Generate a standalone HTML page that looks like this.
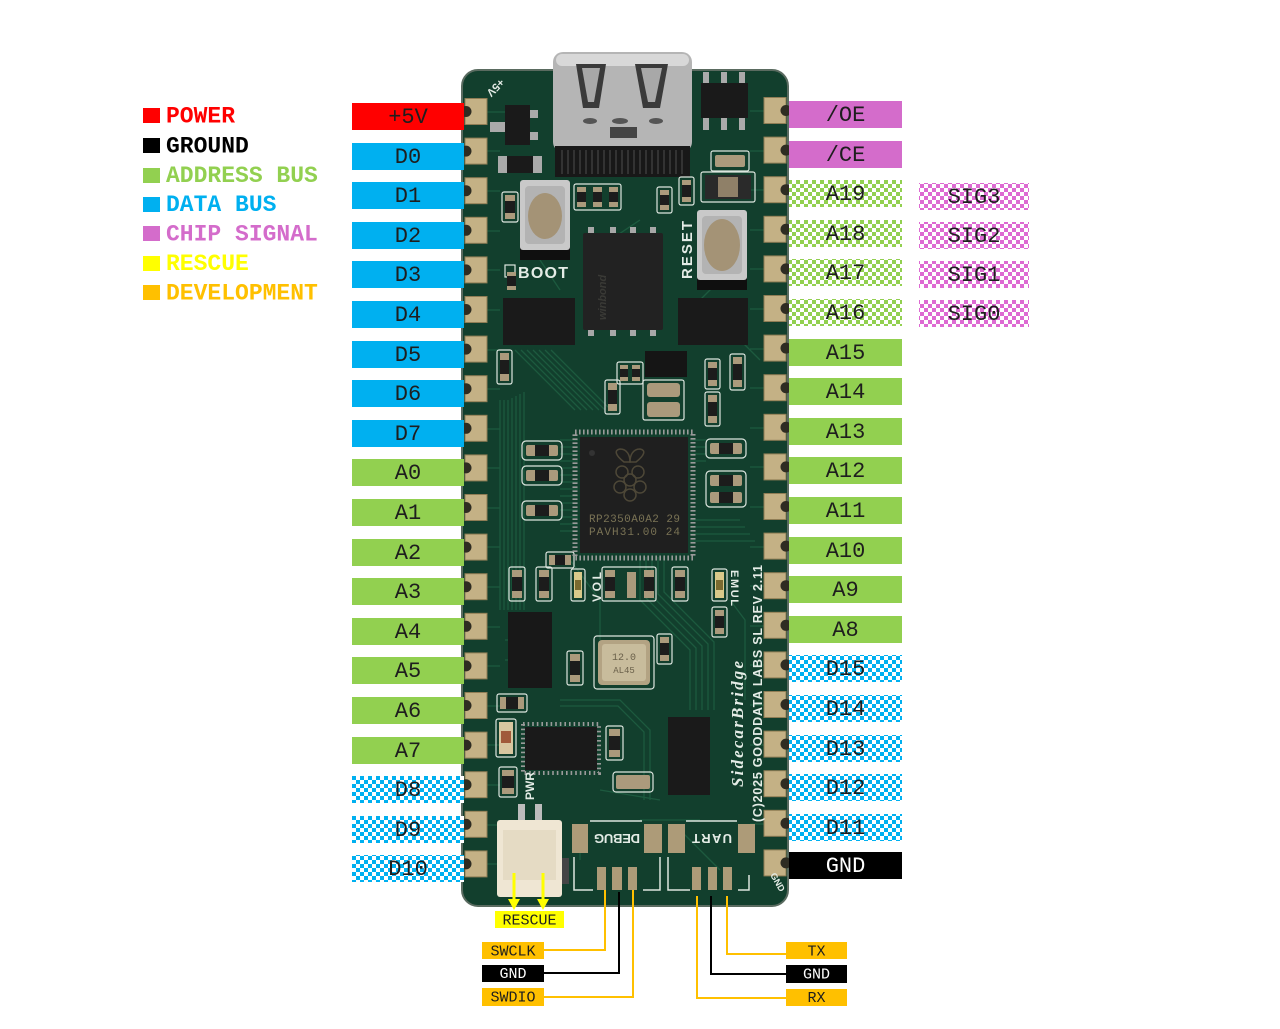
<!DOCTYPE html>
<html><head><meta charset="utf-8"><style>
html,body{margin:0;padding:0;background:#fff;}
svg{display:block;}
.lb{font-family:"Liberation Mono","Courier New",monospace;font-size:22px;fill:#1e1e1e;text-anchor:middle;}
.lg{font-family:"Liberation Mono","Courier New",monospace;font-size:23px;font-weight:bold;}
.sm{font-family:"Liberation Mono","Courier New",monospace;font-size:15px;fill:#1e1e1e;text-anchor:middle;}
.silk{font-family:"Liberation Sans",sans-serif;font-weight:bold;fill:#e4ece6;}
</style></head><body>
<svg width="1280" height="1029" viewBox="0 0 1280 1029" xmlns="http://www.w3.org/2000/svg">
<defs>
<pattern id="cg" width="8" height="8" patternUnits="userSpaceOnUse"><rect width="8" height="8" fill="#fff"/><path d="M0 0h4v4H0zM4 4h4v4H4z" fill="#92d050"/></pattern>
<pattern id="cb" width="8" height="8" patternUnits="userSpaceOnUse"><rect width="8" height="8" fill="#fff"/><path d="M0 0h4v4H0zM4 4h4v4H4z" fill="#00b0f0"/></pattern>
<pattern id="cp" width="8" height="8" patternUnits="userSpaceOnUse"><rect width="8" height="8" fill="#fff"/><path d="M0 0h4v4H0zM4 4h4v4H4z" fill="#dd6ad2"/></pattern>
</defs>

<!-- Legend -->
<rect x="143" y="108" width="17" height="15" fill="#ff0000"/><text class="lg" x="166" y="122.5" fill="#ff0000">POWER</text>
<rect x="143" y="138" width="17" height="15" fill="#000"/><text class="lg" x="166" y="152.5" fill="#000">GROUND</text>
<rect x="143" y="168" width="17" height="15" fill="#92d050"/><text class="lg" x="166" y="182" fill="#92d050">ADDRESS BUS</text>
<rect x="143" y="197" width="17" height="15" fill="#00b0f0"/><text class="lg" x="166" y="211" fill="#00b0f0">DATA BUS</text>
<rect x="143" y="226" width="17" height="15" fill="#d46ccb"/><text class="lg" x="166" y="240.5" fill="#d46ccb">CHIP SIGNAL</text>
<rect x="143" y="256" width="17" height="15" fill="#ffff00"/><text class="lg" x="166" y="270" fill="#ffff00">RESCUE</text>
<rect x="143" y="285" width="17" height="15" fill="#ffc000"/><text class="lg" x="166" y="299.5" fill="#ffc000">DEVELOPMENT</text>

<!-- Board -->
<rect x="462" y="70" width="326" height="836" rx="16" fill="#123f2d" stroke="#5a6b60" stroke-width="2"/>

<!-- traces -->
<g stroke="#1d5a3f" stroke-width="1.3" fill="none">
<path d="M487 112H505M487 151H500M487 191H500M487 231H500M487 270H500M487 310H500M487 350H500M487 389H500M487 429H500M487 468H500M487 508H500M487 547H500M487 587H500M487 627H500M487 666H500M487 706H500M487 745H500M487 785H500M487 825H500M487 864H500"/>
<path d="M764 111H750M764 151H750M764 190H750M764 230H750M764 269H750M764 309H750M764 349H750M764 388H750M764 428H750M764 467H750M764 507H750M764 547H750M764 586H750M764 626H750M764 665H750M764 705H750M764 745H750M764 784H750M764 824H750"/>
<path d="M500 400V610M504 400V610M508 400V610M512 398V610M516 396V610M520 394V610M524 392V610"/>
<path d="M515 350L575 410M521 350L581 410M527 350L587 410M533 350L593 410M539 350L599 410M545 350L605 410M551 350L611 410"/>
<path d="M560 440H578M560 447H578M560 454H578M560 461H578M560 468H578M560 475H578M560 482H578M560 489H578M560 496H578M560 503H578M560 510H578M560 517H578M560 524H578M560 531H578"/>
<path d="M690 440H706M690 447H706M690 454H706M690 461H706M690 520H740M690 527H745M690 534H750M690 541H755"/>
<path d="M640 557V600L690 650V710M646 557V598L696 648V710M652 557V596L702 646V710M658 557V594L708 644V710M664 557V592L714 642V710"/>
<path d="M560 700L620 700L650 730V800M560 706L618 706L644 732V800M600 790L660 800M570 560L600 600V640"/>
<path d="M520 640H505M520 660H505M540 260L560 290M610 240L640 220M700 300L740 260M730 330L760 360M730 600L745 620V700"/>
<path d="M580 830V860M640 820H700M680 830L720 870"/>
</g>

<!-- left pads -->
<g fill="#c4b185" stroke="#8f7d55" stroke-width="1">
<rect x="465" y="98.5" width="22" height="26"/><rect x="465" y="138.1" width="22" height="26"/><rect x="465" y="177.7" width="22" height="26"/><rect x="465" y="217.3" width="22" height="26"/><rect x="465" y="256.9" width="22" height="26"/><rect x="465" y="296.5" width="22" height="26"/><rect x="465" y="336.1" width="22" height="26"/><rect x="465" y="375.7" width="22" height="26"/><rect x="465" y="415.3" width="22" height="26"/><rect x="465" y="454.9" width="22" height="26"/><rect x="465" y="494.5" width="22" height="26"/><rect x="465" y="534.1" width="22" height="26"/><rect x="465" y="573.7" width="22" height="26"/><rect x="465" y="613.3" width="22" height="26"/><rect x="465" y="652.9" width="22" height="26"/><rect x="465" y="692.5" width="22" height="26"/><rect x="465" y="732.1" width="22" height="26"/><rect x="465" y="771.7" width="22" height="26"/><rect x="465" y="811.3" width="22" height="26"/><rect x="465" y="850.9" width="22" height="26"/>
</g>
<g fill="#2e2c22">
<circle cx="466" cy="111.5" r="5.5"/><circle cx="466" cy="151.1" r="5.5"/><circle cx="466" cy="190.7" r="5.5"/><circle cx="466" cy="230.3" r="5.5"/><circle cx="466" cy="269.9" r="5.5"/><circle cx="466" cy="309.5" r="5.5"/><circle cx="466" cy="349.1" r="5.5"/><circle cx="466" cy="388.7" r="5.5"/><circle cx="466" cy="428.3" r="5.5"/><circle cx="466" cy="467.9" r="5.5"/><circle cx="466" cy="507.5" r="5.5"/><circle cx="466" cy="547.1" r="5.5"/><circle cx="466" cy="586.7" r="5.5"/><circle cx="466" cy="626.3" r="5.5"/><circle cx="466" cy="665.9" r="5.5"/><circle cx="466" cy="705.5" r="5.5"/><circle cx="466" cy="745.1" r="5.5"/><circle cx="466" cy="784.7" r="5.5"/><circle cx="466" cy="824.3" r="5.5"/><circle cx="466" cy="863.9" r="5.5"/>
</g>
<!-- right pads -->
<g fill="#c4b185" stroke="#8f7d55" stroke-width="1">
<rect x="764" y="97.5" width="22" height="26"/><rect x="764" y="137.1" width="22" height="26"/><rect x="764" y="176.7" width="22" height="26"/><rect x="764" y="216.3" width="22" height="26"/><rect x="764" y="255.9" width="22" height="26"/><rect x="764" y="295.5" width="22" height="26"/><rect x="764" y="335.1" width="22" height="26"/><rect x="764" y="374.7" width="22" height="26"/><rect x="764" y="414.3" width="22" height="26"/><rect x="764" y="453.9" width="22" height="26"/><rect x="764" y="493.5" width="22" height="26"/><rect x="764" y="533.1" width="22" height="26"/><rect x="764" y="572.7" width="22" height="26"/><rect x="764" y="612.3" width="22" height="26"/><rect x="764" y="651.9" width="22" height="26"/><rect x="764" y="691.5" width="22" height="26"/><rect x="764" y="731.1" width="22" height="26"/><rect x="764" y="770.7" width="22" height="26"/><rect x="764" y="810.3" width="22" height="26"/><rect x="764" y="849.9" width="22" height="26"/>
</g>
<g fill="#2e2c22">
<circle cx="786" cy="110.5" r="5.5"/><circle cx="786" cy="150.1" r="5.5"/><circle cx="786" cy="189.7" r="5.5"/><circle cx="786" cy="229.3" r="5.5"/><circle cx="786" cy="268.9" r="5.5"/><circle cx="786" cy="308.5" r="5.5"/><circle cx="786" cy="348.1" r="5.5"/><circle cx="786" cy="387.7" r="5.5"/><circle cx="786" cy="427.3" r="5.5"/><circle cx="786" cy="466.9" r="5.5"/><circle cx="786" cy="506.5" r="5.5"/><circle cx="786" cy="546.1" r="5.5"/><circle cx="786" cy="585.7" r="5.5"/><circle cx="786" cy="625.3" r="5.5"/><circle cx="786" cy="664.9" r="5.5"/><circle cx="786" cy="704.5" r="5.5"/><circle cx="786" cy="744.1" r="5.5"/><circle cx="786" cy="783.7" r="5.5"/><circle cx="786" cy="823.3" r="5.5"/><circle cx="786" cy="862.9" r="5.5"/>
</g>

<!-- USB-C -->
<rect x="553" y="52" width="139" height="100" rx="10" fill="#b5b5b5"/>
<rect x="556" y="54" width="133" height="12" rx="6" fill="#d8d8d8"/>
<path d="M576 64H606L599 108H583Z" fill="#3a3a3a"/><path d="M582 68H600L594 102H588Z" fill="#a8a8a8"/>
<path d="M635 64H668L660 108H643Z" fill="#3a3a3a"/><path d="M641 68H662L655 102H648Z" fill="#a8a8a8"/>
<ellipse cx="590" cy="121" rx="7" ry="3" fill="#555"/><ellipse cx="620" cy="121" rx="8" ry="3" fill="#555"/><ellipse cx="656" cy="121" rx="7" ry="3" fill="#555"/>
<rect x="610" y="127" width="27" height="11" fill="#444"/>
<rect x="555" y="146" width="135" height="31" fill="#181818"/>
<path d="M562 150V174M568 150V174M574 150V174M580 150V174M586 150V174M592 150V174M598 150V174M604 150V174M610 150V174M616 150V174M622 150V174M628 150V174M634 150V174M640 150V174M646 150V174M652 150V174M658 150V174M664 150V174M670 150V174M676 150V174M682 150V174" stroke="#3c3c3c" stroke-width="1.5"/>

<!-- top small ICs -->
<rect x="703" y="72" width="6" height="12" fill="#aaa"/><rect x="721" y="72" width="6" height="12" fill="#aaa"/><rect x="739" y="72" width="6" height="12" fill="#aaa"/>
<rect x="703" y="117" width="6" height="13" fill="#aaa"/><rect x="721" y="117" width="6" height="13" fill="#aaa"/><rect x="739" y="117" width="6" height="13" fill="#aaa"/>
<rect x="701" y="83" width="47" height="35" fill="#1a1a1a"/>
<rect x="490" y="122" width="15" height="10" fill="#aaa"/><rect x="528" y="110" width="10" height="8" fill="#aaa"/><rect x="528" y="132" width="10" height="8" fill="#aaa"/>
<rect x="505" y="105" width="25" height="40" fill="#1a1a1a"/>
<rect x="498" y="156" width="44" height="17" fill="#aaa"/><rect x="507" y="156" width="26" height="17" fill="#1a1a1a"/>

<!-- small parts -->
<g fill="none" stroke="#dde6df" stroke-width="1.2">
<rect x="502" y="192" width="16" height="30" rx="2"/>
<rect x="574" y="184" width="47" height="26" rx="2"/>
<rect x="657" y="187" width="15" height="26" rx="2"/>
<rect x="679" y="177" width="15" height="28" rx="2"/>
<rect x="711" y="151" width="38" height="20" rx="2"/>
<rect x="701" y="172" width="54" height="30" rx="2"/>
<rect x="497" y="350" width="15" height="34" rx="2"/>
<rect x="605" y="380" width="15" height="34" rx="2"/>
<rect x="617" y="362" width="26" height="22" rx="2"/>
<rect x="705" y="359" width="15" height="30" rx="2"/>
<rect x="705" y="392" width="15" height="34" rx="2"/>
<rect x="730" y="354" width="15" height="36" rx="2"/>
<rect x="643" y="380" width="41" height="40" rx="2"/>
<rect x="522" y="441" width="40" height="19" rx="4"/>
<rect x="522" y="466" width="40" height="19" rx="4"/>
<rect x="522" y="501" width="40" height="19" rx="4"/>
<rect x="706" y="439" width="40" height="19" rx="4"/>
<rect x="706" y="471" width="40" height="36" rx="4"/>
<rect x="546" y="552" width="28" height="16" rx="2"/>
<rect x="509" y="567" width="16" height="34" rx="2"/>
<rect x="536" y="567" width="16" height="34" rx="2"/>
<rect x="571" y="569" width="14" height="32" rx="2"/>
<rect x="602" y="567" width="54" height="34" rx="2"/>
<rect x="672" y="567" width="16" height="34" rx="2"/>
<rect x="712" y="569" width="15" height="32" rx="2"/>
<rect x="712" y="607" width="15" height="30" rx="2"/>
<rect x="567" y="651" width="16" height="34" rx="2"/>
<rect x="657" y="634" width="15" height="30" rx="2"/>
<rect x="594" y="636" width="60" height="53" rx="3"/>
<rect x="497" y="694" width="30" height="18" rx="2"/>
<rect x="496" y="719" width="20" height="38" rx="2"/>
<rect x="606" y="726" width="17" height="34" rx="2"/>
<rect x="499" y="767" width="18" height="30" rx="2"/>
<rect x="613" y="772" width="40" height="20" rx="3"/>
<rect x="505" y="265" width="10" height="12"/>
</g>
<g fill="#ab9a7c">
<rect x="505" y="195" width="10" height="24"/>
<rect x="577" y="187" width="9" height="20"/><rect x="593" y="187" width="9" height="20"/><rect x="609" y="187" width="9" height="20"/>
<rect x="660" y="190" width="9" height="20"/><rect x="682" y="180" width="9" height="22"/>
<rect x="715" y="155" width="30" height="12" rx="2"/>
<rect x="507" y="272" width="9" height="18"/>
<rect x="500" y="353" width="9" height="28"/><rect x="608" y="383" width="9" height="28"/>
<rect x="620" y="365" width="8" height="16"/><rect x="632" y="365" width="8" height="16"/>
<rect x="708" y="362" width="9" height="24"/><rect x="708" y="395" width="9" height="28"/><rect x="733" y="357" width="9" height="30"/>
<rect x="647" y="383" width="33" height="14" rx="3"/><rect x="647" y="402" width="33" height="15" rx="3"/>
<rect x="526" y="445" width="32" height="11" rx="2"/><rect x="526" y="470" width="32" height="11" rx="2"/><rect x="526" y="505" width="32" height="11" rx="2"/>
<rect x="710" y="443" width="32" height="11" rx="2"/><rect x="710" y="475" width="32" height="11" rx="2"/><rect x="710" y="492" width="32" height="11" rx="2"/>
<rect x="549" y="555" width="22" height="10"/>
<rect x="512" y="570" width="10" height="28"/><rect x="539" y="570" width="10" height="28"/>
<rect x="605" y="570" width="10" height="28"/><rect x="627" y="572" width="9" height="26"/><rect x="644" y="570" width="10" height="28"/>
<rect x="675" y="570" width="10" height="28"/><rect x="715" y="610" width="9" height="24"/>
<rect x="570" y="654" width="10" height="28"/><rect x="660" y="637" width="9" height="24"/>
<rect x="500" y="697" width="24" height="12"/>
<rect x="609" y="729" width="11" height="28"/><rect x="502" y="770" width="12" height="24"/>
<rect x="616" y="775" width="34" height="14" rx="2"/>
</g>
<g fill="#1c1c1c">
<rect x="505" y="201" width="10" height="12"/>
<rect x="577" y="192" width="9" height="10"/><rect x="593" y="192" width="9" height="10"/><rect x="609" y="192" width="9" height="10"/>
<rect x="660" y="195" width="9" height="10"/><rect x="682" y="185" width="9" height="12"/>
<rect x="507" y="276" width="9" height="10"/>
<rect x="500" y="360" width="9" height="14"/><rect x="608" y="390" width="9" height="14"/>
<rect x="620" y="369" width="8" height="8"/><rect x="632" y="369" width="8" height="8"/>
<rect x="708" y="368" width="9" height="12"/><rect x="708" y="402" width="9" height="14"/><rect x="733" y="364" width="9" height="16"/>
<rect x="535" y="445" width="14" height="11"/><rect x="535" y="470" width="14" height="11"/><rect x="535" y="505" width="14" height="11"/>
<rect x="719" y="443" width="14" height="11"/><rect x="719" y="475" width="14" height="11"/><rect x="719" y="492" width="14" height="11"/>
<rect x="555" y="555" width="10" height="10"/>
<rect x="512" y="577" width="10" height="14"/><rect x="539" y="577" width="10" height="14"/>
<rect x="605" y="577" width="10" height="14"/><rect x="644" y="577" width="10" height="14"/><rect x="675" y="577" width="10" height="14"/>
<rect x="715" y="616" width="9" height="12"/>
<rect x="570" y="661" width="10" height="14"/><rect x="660" y="643" width="9" height="12"/>
<rect x="506" y="697" width="12" height="12"/>
<rect x="609" y="736" width="11" height="14"/><rect x="502" y="776" width="12" height="12"/>
<rect x="705" y="175" width="46" height="24" fill="#2a2a2a"/>
</g>
<rect x="718" y="177" width="20" height="20" fill="#8f8068"/>
<!-- LEDs -->
<rect x="574" y="572" width="8" height="26" fill="#d9c98a"/><rect x="575" y="580" width="6" height="10" fill="#7a6a30"/>
<rect x="715" y="572" width="9" height="26" fill="#d9c98a"/><rect x="716" y="580" width="7" height="10" fill="#7a6a30"/>
<rect x="499" y="722" width="14" height="32" fill="#d8c7a0"/><rect x="501" y="731" width="10" height="12" fill="#a05a3a"/>

<!-- Buttons -->
<rect x="520" y="246" width="50" height="14" fill="#0f0f0f"/>
<rect x="520" y="180" width="50" height="70" rx="3" fill="#c9c9c9"/>
<rect x="525" y="186" width="40" height="58" rx="4" fill="#b3b3b3"/>
<ellipse cx="545" cy="216" rx="17" ry="23" fill="#a49376"/>
<rect x="697" y="276" width="50" height="14" fill="#0f0f0f"/>
<rect x="697" y="210" width="50" height="70" rx="3" fill="#c9c9c9"/>
<rect x="702" y="216" width="40" height="58" rx="4" fill="#b3b3b3"/>
<ellipse cx="722" cy="245" rx="18" ry="26" fill="#a49376"/>

<!-- Flash -->
<g fill="#a8a8a8"><rect x="588" y="227" width="6" height="8"/><rect x="610" y="227" width="6" height="8"/><rect x="630" y="227" width="6" height="8"/><rect x="650" y="227" width="6" height="8"/>
<rect x="588" y="328" width="6" height="8"/><rect x="610" y="328" width="6" height="8"/><rect x="630" y="328" width="6" height="8"/><rect x="650" y="328" width="6" height="8"/></g>
<rect x="583" y="233" width="80" height="97" rx="2" fill="#222"/>
<text transform="translate(606,320) rotate(-90)" font-family="Liberation Sans,sans-serif" font-weight="bold" font-style="italic" font-size="11" fill="#3a3a36">winbond</text>
<!-- side chips -->
<rect x="503" y="298" width="72" height="47" fill="#1a1a1a"/>
<rect x="678" y="298" width="70" height="47" fill="#1a1a1a"/>
<rect x="645" y="351" width="42" height="26" fill="#151515"/>

<!-- RP2350 -->
<rect x="575" y="432" width="118" height="126" fill="none" stroke="#9a9a9a" stroke-width="5" stroke-dasharray="1.6,2.4"/>
<rect x="580" y="437" width="108" height="116" fill="#1f1f1f"/>
<circle cx="592" cy="453" r="3" fill="#333"/>
<g fill="none" stroke="#4d4737" stroke-width="1.5">
<path d="M624 462C615 455 614 450 620 449C627 449 630 455 630 462Z"/>
<path d="M636 462C645 455 646 450 640 449C633 449 630 455 630 462Z"/>
<circle cx="622" cy="472" r="6"/><circle cx="638" cy="472" r="6"/><circle cx="630" cy="480" r="6"/><circle cx="620" cy="487" r="6"/><circle cx="640" cy="487" r="6"/><circle cx="630" cy="495" r="6"/>
</g>
<text x="589" y="522" font-family="Liberation Mono,monospace" font-size="11" fill="#7a7355" textLength="91">RP2350A0A2 29</text>
<text x="589" y="535" font-family="Liberation Mono,monospace" font-size="11" fill="#7a7355" textLength="91">PAVH31.00  24</text>

<!-- crystal -->
<rect x="598" y="640" width="52" height="45" rx="4" fill="#b3a383"/>
<rect x="602" y="644" width="44" height="37" rx="3" fill="#c8bc9c"/>
<text x="624" y="660" font-family="Liberation Mono,monospace" font-size="10" fill="#6a604a" text-anchor="middle">12.0</text>
<text x="624" y="673" font-family="Liberation Mono,monospace" font-size="9" fill="#6a604a" text-anchor="middle">AL45</text>

<!-- lower chips -->
<rect x="508" y="612" width="44" height="76" fill="#181818"/>
<rect x="523" y="724" width="76" height="49" fill="none" stroke="#9a9a9a" stroke-width="4" stroke-dasharray="1.6,3"/>
<rect x="525" y="727" width="72" height="43" fill="#1a1a1a"/>
<rect x="668" y="717" width="42" height="78" fill="#1a1a1a"/>

<!-- JST connector -->
<rect x="518" y="804" width="7" height="30" fill="#bcbcbc"/><rect x="535" y="804" width="7" height="30" fill="#bcbcbc"/>
<rect x="562" y="858" width="7" height="26" fill="#444"/>
<rect x="497" y="820" width="65" height="77" rx="3" fill="#efe6d3"/>
<rect x="503" y="830" width="53" height="50" fill="#e5dbc4"/>

<!-- debug/uart -->
<g fill="#ad9b78">
<rect x="572" y="824" width="16" height="29"/><rect x="644" y="824" width="18" height="29"/><rect x="668" y="824" width="17" height="29"/><rect x="738" y="824" width="17" height="29"/>
<rect x="597" y="867" width="9" height="23"/><rect x="612" y="867" width="10" height="23"/><rect x="628" y="867" width="9" height="23"/>
<rect x="692" y="867" width="9" height="23"/><rect x="708" y="867" width="9" height="23"/><rect x="723" y="867" width="9" height="23"/>
</g>
<g fill="none" stroke="#dde6df" stroke-width="1.5">
<path d="M590 821H642M686 821H737"/>
<path d="M574 857V890H593M660 857V890H643M668 857V890H690M749 875V890H738"/>
</g>
<text transform="translate(640,834) rotate(180)" class="silk" font-size="13" textLength="46">DEBUG</text>
<text transform="translate(732,834) rotate(180)" class="silk" font-size="13" textLength="40">UART</text>
<text transform="translate(770,875) rotate(60)" class="silk" font-size="9">GND</text>

<!-- silkscreen text -->
<text x="518" y="278" class="silk" font-size="16" textLength="50">BOOT</text>
<text transform="translate(692,279) rotate(-90)" class="silk" font-size="15" textLength="58">RESET</text>
<text transform="translate(601,602) rotate(-90)" class="silk" font-size="12" textLength="30">VOL</text>
<text transform="translate(731,570) rotate(90)" class="silk" font-size="11" textLength="36">EMUL</text>
<text transform="translate(534,800) rotate(-90)" class="silk" font-size="12" textLength="28">PWR</text>
<text transform="translate(500,78) rotate(135)" class="silk" font-size="11">+5V</text>
<text transform="translate(743,787) rotate(-90)" font-family="Liberation Serif,serif" font-weight="bold" font-style="italic" font-size="17" fill="#e4ece6" textLength="126">SidecarBridge</text>
<text transform="translate(762,822) rotate(-90)" class="silk" font-size="12.5" textLength="257">(C)2025 GOODDATA LABS SL REV 2.11</text>

<!-- Left labels -->
<rect x="352" y="103" width="112" height="27" fill="#ff0000"/><text class="lb" x="408" y="123">+5V</text>
<rect x="352" y="143" width="112" height="27" fill="#00b0f0"/><text class="lb" x="408" y="163">D0</text>
<rect x="352" y="182" width="112" height="27" fill="#00b0f0"/><text class="lb" x="408" y="202">D1</text>
<rect x="352" y="222" width="112" height="27" fill="#00b0f0"/><text class="lb" x="408" y="242">D2</text>
<rect x="352" y="261" width="112" height="27" fill="#00b0f0"/><text class="lb" x="408" y="281">D3</text>
<rect x="352" y="301" width="112" height="27" fill="#00b0f0"/><text class="lb" x="408" y="321">D4</text>
<rect x="352" y="341" width="112" height="27" fill="#00b0f0"/><text class="lb" x="408" y="361">D5</text>
<rect x="352" y="380" width="112" height="27" fill="#00b0f0"/><text class="lb" x="408" y="400">D6</text>
<rect x="352" y="420" width="112" height="27" fill="#00b0f0"/><text class="lb" x="408" y="440">D7</text>
<rect x="352" y="459" width="112" height="27" fill="#92d050"/><text class="lb" x="408" y="479">A0</text>
<rect x="352" y="499" width="112" height="27" fill="#92d050"/><text class="lb" x="408" y="519">A1</text>
<rect x="352" y="539" width="112" height="27" fill="#92d050"/><text class="lb" x="408" y="559">A2</text>
<rect x="352" y="578" width="112" height="27" fill="#92d050"/><text class="lb" x="408" y="598">A3</text>
<rect x="352" y="618" width="112" height="27" fill="#92d050"/><text class="lb" x="408" y="638">A4</text>
<rect x="352" y="657" width="112" height="27" fill="#92d050"/><text class="lb" x="408" y="677">A5</text>
<rect x="352" y="697" width="112" height="27" fill="#92d050"/><text class="lb" x="408" y="717">A6</text>
<rect x="352" y="737" width="112" height="27" fill="#92d050"/><text class="lb" x="408" y="757">A7</text>
<rect x="352" y="776" width="112" height="27" fill="url(#cb)"/><text class="lb" x="408" y="796">D8</text>
<rect x="352" y="816" width="112" height="27" fill="url(#cb)"/><text class="lb" x="408" y="836">D9</text>
<rect x="352" y="855" width="112" height="27" fill="url(#cb)"/><text class="lb" x="408" y="875">D10</text>

<!-- Right labels -->
<rect x="789" y="101" width="113" height="27" fill="#d46ccb"/><text class="lb" x="845.5" y="121">/OE</text>
<rect x="789" y="141" width="113" height="27" fill="#d46ccb"/><text class="lb" x="845.5" y="161">/CE</text>
<rect x="789" y="180" width="113" height="27" fill="url(#cg)"/><text class="lb" x="845.5" y="200">A19</text>
<rect x="789" y="220" width="113" height="27" fill="url(#cg)"/><text class="lb" x="845.5" y="240">A18</text>
<rect x="789" y="259" width="113" height="27" fill="url(#cg)"/><text class="lb" x="845.5" y="279">A17</text>
<rect x="789" y="299" width="113" height="27" fill="url(#cg)"/><text class="lb" x="845.5" y="319">A16</text>
<rect x="789" y="339" width="113" height="27" fill="#92d050"/><text class="lb" x="845.5" y="359">A15</text>
<rect x="789" y="378" width="113" height="27" fill="#92d050"/><text class="lb" x="845.5" y="398">A14</text>
<rect x="789" y="418" width="113" height="27" fill="#92d050"/><text class="lb" x="845.5" y="438">A13</text>
<rect x="789" y="457" width="113" height="27" fill="#92d050"/><text class="lb" x="845.5" y="477">A12</text>
<rect x="789" y="497" width="113" height="27" fill="#92d050"/><text class="lb" x="845.5" y="517">A11</text>
<rect x="789" y="537" width="113" height="27" fill="#92d050"/><text class="lb" x="845.5" y="557">A10</text>
<rect x="789" y="576" width="113" height="27" fill="#92d050"/><text class="lb" x="845.5" y="596">A9</text>
<rect x="789" y="616" width="113" height="27" fill="#92d050"/><text class="lb" x="845.5" y="636">A8</text>
<rect x="789" y="655" width="113" height="27" fill="url(#cb)"/><text class="lb" x="845.5" y="675">D15</text>
<rect x="789" y="695" width="113" height="27" fill="url(#cb)"/><text class="lb" x="845.5" y="715">D14</text>
<rect x="789" y="735" width="113" height="27" fill="url(#cb)"/><text class="lb" x="845.5" y="755">D13</text>
<rect x="789" y="774" width="113" height="27" fill="url(#cb)"/><text class="lb" x="845.5" y="794">D12</text>
<rect x="789" y="814" width="113" height="27" fill="url(#cb)"/><text class="lb" x="845.5" y="834">D11</text>
<rect x="789" y="852" width="113" height="27" fill="#000"/><text class="lb" x="845.5" y="872" style="fill:#fff">GND</text>

<!-- SIG labels -->
<rect x="919" y="183" width="110" height="27" fill="url(#cp)"/><text class="lb" x="974" y="203">SIG3</text>
<rect x="919" y="222" width="110" height="27" fill="url(#cp)"/><text class="lb" x="974" y="242">SIG2</text>
<rect x="919" y="261" width="110" height="27" fill="url(#cp)"/><text class="lb" x="974" y="281">SIG1</text>
<rect x="919" y="300" width="110" height="27" fill="url(#cp)"/><text class="lb" x="974" y="320">SIG0</text>

<!-- Rescue arrows -->
<g stroke="#ffff00" stroke-width="3"><path d="M514 873V901M543 873V901"/></g>
<g fill="#ffff00"><path d="M508 899H520L514 910Z"/><path d="M537 899H549L543 910Z"/></g>
<rect x="495" y="911" width="69" height="17" fill="#ffff00"/><text class="sm" x="529.5" y="924.5">RESCUE</text>

<!-- debug / uart connectors -->
<g fill="none" stroke-width="2">
<path d="M544 950H605V890" stroke="#ffc000"/>
<path d="M544 973H619V892" stroke="#000"/>
<path d="M544 997H633V890" stroke="#ffc000"/>
<path d="M786 954H727V896" stroke="#ffc000"/>
<path d="M786 974H711V896" stroke="#000"/>
<path d="M786 998H697V896" stroke="#ffc000"/>
</g>
<rect x="482" y="942" width="62" height="17" fill="#ffc000"/><text class="sm" x="513" y="955.5">SWCLK</text>
<rect x="482" y="965" width="62" height="17" fill="#000"/><text class="sm" x="513" y="978" style="fill:#fff">GND</text>
<rect x="482" y="988" width="62" height="18" fill="#ffc000"/><text class="sm" x="513" y="1001.5">SWDIO</text>
<rect x="786" y="942" width="61" height="17" fill="#ffc000"/><text class="sm" x="816.5" y="955.5">TX</text>
<rect x="786" y="965" width="61" height="18" fill="#000"/><text class="sm" x="816.5" y="978.5" style="fill:#fff">GND</text>
<rect x="786" y="989" width="61" height="17" fill="#ffc000"/><text class="sm" x="816.5" y="1002">RX</text>
</svg>
</body></html>
